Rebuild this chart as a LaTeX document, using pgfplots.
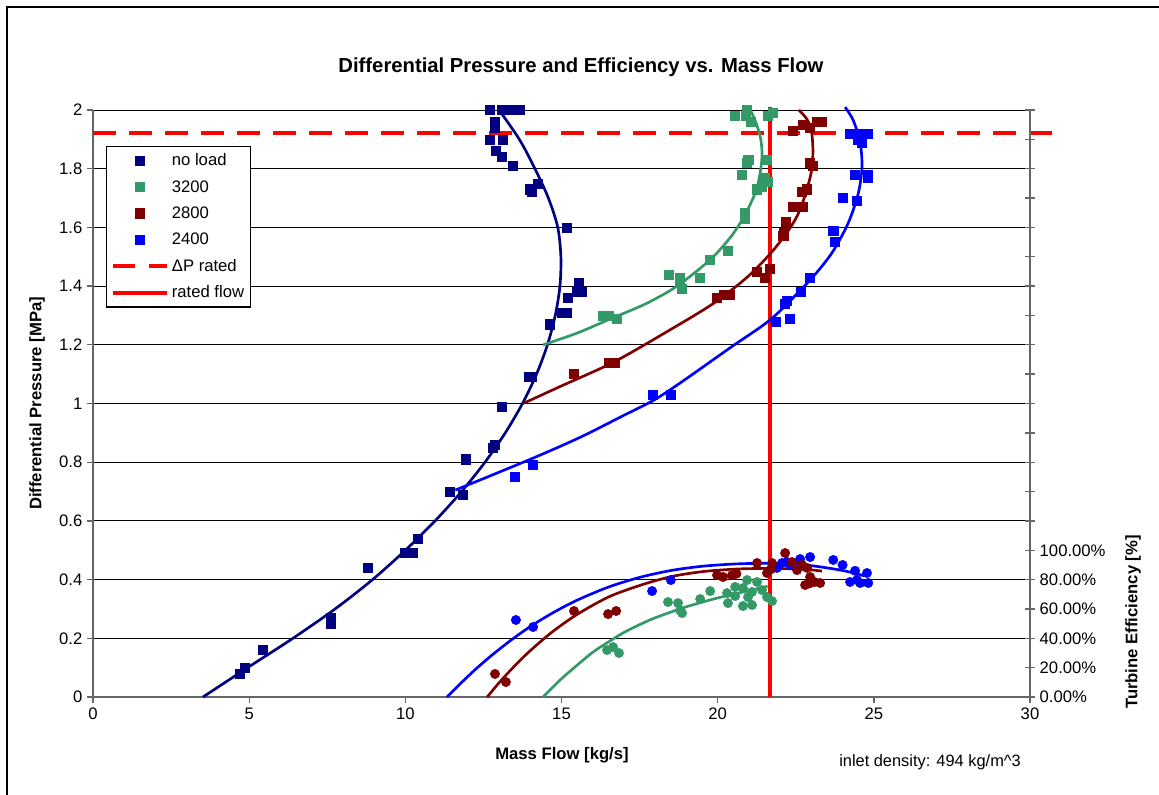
\documentclass[border=0pt]{standalone}
\usepackage{fontspec}
\setmainfont{Liberation Sans}
\usepackage{pgfplots}
\pgfplotsset{compat=1.18}

\definecolor{noload}{RGB}{0,0,128}
\definecolor{c3200}{RGB}{51,153,102}
\definecolor{c2800}{RGB}{128,0,0}
\definecolor{c2400}{RGB}{0,0,255}
\definecolor{rated}{RGB}{255,0,0}

\newcommand{\lbl}{\fontsize{12.5}{15}\selectfont}

\pgfplotsset{
  chartbase/.style={
    at={(69.75pt,-522.75pt)}, anchor=south west,
    scale only axis, width=702.75pt, height=440.25pt,
    xmin=0, xmax=30, clip=false,
    tick label style={font=\lbl},
    /pgf/number format/assume math mode=true,
    axis line style={black!60, line width=1.1pt},
    tick style={black!60, line width=1pt},
  },
  sq/.style={only marks, mark=square*, mark size=3.4pt},
  dot/.style={only marks, mark=*, mark size=3.5pt},
  fit/.style={smooth, line width=2pt, forget plot},
}

\begin{document}
\begin{tikzpicture}
\useasboundingbox (0,0) rectangle (869.25pt,-595.5pt);
\draw[black, line width=1.5pt] (5.25pt,-600pt) -- (5.25pt,-5.25pt) -- (880pt,-5.25pt);

% pressure axis (left)
\begin{axis}[chartbase,
  ymin=0, ymax=2,
  axis x line*=bottom, axis y line*=left,
  xtick={0,5,10,15,20,25,30},
  ytick={0,0.2,0.4,0.6,0.8,1,1.2,1.4,1.6,1.8,2},
  tick align=outside, major tick length=4.5pt,
  ymajorgrids, major grid style={black, line width=0.7pt},
  legend style={at={(0.0139,0.9387)}, anchor=north west, draw=black, line width=0.8pt,
    font=\lbl, row sep=5.4pt, inner xsep=3pt, inner ysep=3.5pt},
  legend cell align=left,
  legend image code/.code={\draw[mark repeat=2,mark phase=2,#1] plot coordinates {(0pt,0pt) (20.5pt,0pt) (41pt,0pt)};},
]
\addplot[sq, color=noload] coordinates {
 (4.71,0.08) (4.87,0.10) (5.45,0.16) (7.6,0.25) (7.6,0.27) (8.8,0.44) (9.99,0.49) (10.25,0.49)
 (10.4,0.54) (11.43,0.70) (11.85,0.69) (11.94,0.81) (12.81,0.85) (12.85,0.86) (13.1,0.99)
 (13.95,1.09) (14.05,1.09) (14.63,1.27) (15.0,1.31) (15.17,1.31) (15.2,1.36) (15.5,1.38)
 (15.66,1.38) (15.56,1.41) (15.18,1.60) (13.99,1.73) (14.06,1.72) (14.25,1.75) (13.45,1.81)
 (13.1,1.84) (12.9,1.86) (12.71,1.90) (13.13,1.90) (12.87,1.94) (12.87,1.96) (12.71,2.0)
 (13.1,2.0) (13.3,2.0) (13.45,2.0) (13.67,2.0)
};
\addlegendentry{no load}
\addplot[sq, color=c3200] coordinates {
 (16.33,1.30) (16.5,1.30) (16.78,1.29) (18.44,1.44) (18.8,1.43) (18.85,1.39) (18.8,1.41)
 (19.44,1.43) (19.76,1.49) (20.33,1.52) (20.88,1.65) (20.88,1.63) (21.26,1.73) (21.45,1.76)
 (21.6,1.755) (21.4,1.74) (20.78,1.78) (20.94,1.82) (20.98,1.83) (21.58,1.83) (20.56,1.98)
 (20.9,1.98) (20.94,2.0) (21.07,1.96) (21.6,1.98) (21.75,1.99) (21.5,1.77)
};
\addlegendentry{3200}
\addplot[sq, color=c2800] coordinates {
 (15.4,1.10) (16.5,1.14) (16.7,1.14) (19.98,1.36) (20.2,1.37) (20.4,1.37) (21.26,1.45)
 (21.5,1.43) (21.68,1.46) (22.1,1.57) (22.13,1.58) (22.19,1.62) (22.41,1.67) (22.73,1.67)
 (22.7,1.72) (22.86,1.73) (23.05,1.81) (22.95,1.82) (22.41,1.93) (22.73,1.95) (22.96,1.94)
 (23.18,1.96) (23.34,1.96)
};
\addlegendentry{2800}
\addplot[sq, color=c2400] coordinates {
 (13.51,0.75) (14.09,0.79) (17.93,1.03) (18.5,1.03) (21.87,1.28) (22.3,1.29) (22.15,1.34)
 (22.2,1.35) (22.67,1.38) (22.96,1.43) (23.76,1.55) (23.7,1.59) (24.0,1.70) (24.45,1.69)
 (24.4,1.78) (24.8,1.78) (24.8,1.77) (24.24,1.92) (24.46,1.92) (24.6,1.92) (24.8,1.92)
 (24.5,1.90) (24.6,1.89)
};
\addlegendentry{2400}
\addplot[rated, line width=3pt, dash pattern=on 17pt off 10pt] coordinates {(0,1.922) (31.06,1.922)};
\addlegendentry{ΔP rated}
\addplot[rated, line width=3pt] coordinates {(21.68,0) (21.68,2.01)};
\addlegendentry{rated flow}

\addplot[fit, color=noload] coordinates {
 (3.52,0) (4.95,0.1) (6.4,0.2) (7.75,0.3) (8.95,0.4) (10.0,0.5) (10.95,0.6) (11.8,0.7)
 (12.55,0.8) (13.2,0.9) (13.75,1.0) (14.2,1.1) (14.55,1.2) (14.8,1.3) (14.95,1.4) (14.98,1.5)
 (14.88,1.6) (14.58,1.7) (14.15,1.8) (13.65,1.9) (13.0,2.0)
};
\addplot[fit, color=c3200] coordinates {
 (14.41,1.20) (15.5,1.24) (16.6,1.29) (17.7,1.34) (18.7,1.40) (19.76,1.49) (20.4,1.565)
 (20.78,1.625) (21.05,1.68) (21.26,1.735) (21.38,1.80) (21.42,1.85) (21.38,1.90) (21.25,1.95)
 (21.05,2.0)
};
\addplot[fit, color=c2800] coordinates {
 (13.77,1.0) (15.0,1.06) (16.65,1.14) (18.3,1.24) (19.85,1.34) (20.94,1.43) (21.68,1.51)
 (22.2,1.58) (22.55,1.64) (22.8,1.71) (23.0,1.79) (23.05,1.86) (23.0,1.93) (22.85,1.97) (22.6,2.0)
};
\addplot[fit, color=c2400] coordinates {
 (11.6,0.705) (14.0,0.81) (15.6,0.885) (17.0,0.96) (17.93,1.01) (18.8,1.07) (20.4,1.19)
 (21.68,1.285) (22.64,1.385) (23.2,1.45) (23.7,1.52) (24.18,1.615) (24.5,1.715) (24.62,1.805)
 (24.56,1.89) (24.34,1.965) (24.08,2.01)
};
\end{axis}

% efficiency axis (right)
\begin{axis}[chartbase,
  ymin=0, ymax=400,
  axis x line=none, axis y line*=right,
  ytick={0,20,...,400},
  yticklabels={0.00\%,20.00\%,40.00\%,60.00\%,80.00\%,100.00\%,,,,,,,,,,,,,,,},
  tick align=center, major tick length=7.5pt,
]
\addplot[dot, color=c2400] coordinates {
 (13.54,52.5) (14.09,47.7) (17.9,72.2) (18.5,79.7) (21.9,88) (22.06,91.3) (22.22,92) (22.32,90)
 (22.64,94) (22.96,95.4) (23.7,93.4) (24.0,90) (24.24,78.4) (24.46,79.7) (24.56,77.7)
 (24.78,84.5) (24.82,77.7) (24.4,86)
};
\addplot[dot, color=c2800] coordinates {
 (12.87,15.7) (13.22,10.2) (15.4,58.6) (16.49,56.5) (16.75,58.6) (19.98,83) (20.17,81.8)
 (20.46,83) (20.6,84) (21.26,91.3) (21.58,84.5) (21.74,91.3) (21.7,87) (22.16,98.1) (22.38,92)
 (22.54,86.5) (22.7,90) (22.86,88) (22.96,81.8) (23.1,78.4) (23.28,77.7) (22.8,76.3) (22.95,77.5)
};
\addplot[dot, color=c3200] coordinates {
 (16.46,32) (16.65,34) (16.84,30) (18.41,64.7) (18.73,64) (18.8,59) (18.86,57.2) (19.44,66.8)
 (19.76,72.2) (20.33,64) (20.3,70.8) (20.56,68.8) (20.56,75) (20.81,74.2) (20.94,79.7)
 (20.97,68.1) (21.1,71.6) (21.26,78.4) (21.42,72.9) (21.58,68.1) (21.74,65.4) (20.81,62) (21.1,62.7)
};
\addplot[fit, color=c2400] coordinates {
 (11.33,0) (11.8,9.9) (12.3,19.9) (12.8,29) (13.4,39) (14,48) (14.7,57.1) (15.5,66) (16.5,74.9)
 (17.5,81.5) (18.5,86.2) (19.5,89.1) (20.5,90.6) (21.3,91.1) (22,91.1) (22.5,90.6) (23,89.5)
 (23.5,88) (24,86.2) (24.4,84.3) (24.7,82.5)
};
\addplot[fit, color=c2800] coordinates {
 (12.62,0) (13,9.7) (13.5,21.2) (14,31.6) (14.7,44.3) (15.5,56.3) (16.5,68.1) (17.5,76)
 (18.5,82) (19.5,85.4) (20.5,87.1) (21.3,87.6) (21.8,87.6) (22.5,87.3) (23,86.6) (23.34,85.8)
};
\addplot[fit, color=c3200] coordinates {
 (14.41,0) (14.7,6.3) (15,12.5) (15.5,21.7) (16,30.5) (16.5,37.5) (17,44) (17.5,49.3) (18,54)
 (19,61.5) (20,67.5) (21,72.5) (21.6,75.5)
};
\end{axis}

\node[font=\fontsize{15.2}{18}\selectfont\bfseries] at (435.75pt,-50.25pt) {Differential Pressure and Efficiency vs. Mass Flow};
\node[font=\lbl\bfseries, rotate=90] at (27.75pt,-302.6pt) {Differential Pressure [MPa]};
\node[font=\lbl\bfseries] at (421.5pt,-566.25pt) {Mass Flow [kg/s]};
\node[font=\lbl\bfseries, rotate=90] at (849.75pt,-466.5pt) {Turbine Efficiency [\%]};
\node[font=\fontsize{12.3}{15}\selectfont] at (697.5pt,-571.5pt) {inlet density: 494 kg/m\textasciicircum 3};
\end{tikzpicture}
\end{document}
